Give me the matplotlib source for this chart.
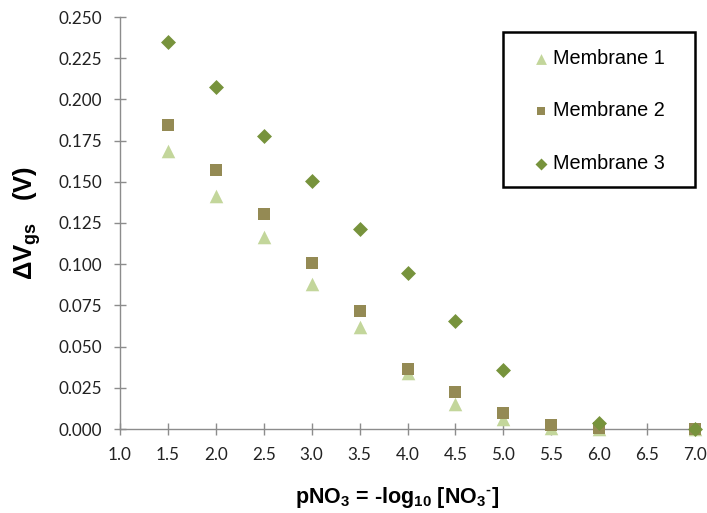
import matplotlib
matplotlib.use("Agg")
import matplotlib.pyplot as plt
from matplotlib.ticker import MultipleLocator, FormatStrFormatter
from matplotlib.patches import Rectangle

plt.rcParams['mathtext.default'] = 'regular'

pNO3 = [1.5, 2.0, 2.5, 3.0, 3.5, 4.0, 4.5, 5.0, 5.5, 6.0, 7.0]
membrane1 = [0.1687, 0.1414, 0.1165, 0.0880, 0.0619, 0.0340, 0.0152, 0.0060, 0.0006, 0.0000, 0.0000]
membrane2 = [0.1845, 0.1570, 0.1305, 0.1007, 0.0716, 0.0364, 0.0225, 0.0097, 0.0024, 0.0006, 0.0000]
pNO3_m3 = [1.5, 2.0, 2.5, 3.0, 3.5, 4.0, 4.5, 5.0, 6.0, 7.0]
membrane3 = [0.2348, 0.2075, 0.1778, 0.1505, 0.1214, 0.0947, 0.0655, 0.0358, 0.0036, 0.0000]

labels = ["Membrane 1", "Membrane 2", "Membrane 3"]
colors = ["#c3d69b", "#948a54", "#77933c"]

fig = plt.figure(figsize=(7.07, 5.13), dpi=100)
ax = fig.add_axes([120/707, 1-429/513, (695-120)/707, (429-17)/513])

ax.scatter(pNO3, membrane1, marker='^', s=95, color=colors[0], label=labels[0],
           zorder=3, linewidths=0, clip_on=False)
ax.scatter(pNO3, membrane2, marker='s', s=65, color=colors[1], label=labels[1],
           zorder=4, linewidths=0, clip_on=False)
ax.scatter(pNO3_m3, membrane3, marker='D', s=58, color=colors[2], label=labels[2],
           zorder=5, linewidths=0, clip_on=False)

ax.set_xlim(1.0, 7.0)
ax.set_ylim(0.0, 0.25)
ax.xaxis.set_major_locator(MultipleLocator(0.5))
ax.yaxis.set_major_locator(MultipleLocator(0.025))
ax.xaxis.set_major_formatter(FormatStrFormatter('%.1f'))
ax.yaxis.set_major_formatter(FormatStrFormatter('%.3f'))

for s in ['top', 'right']:
    ax.spines[s].set_visible(False)
for s in ['left', 'bottom']:
    ax.spines[s].set_color('#8c8c8c')
    ax.spines[s].set_linewidth(1.0)
ax.tick_params(axis='both', direction='inout', length=9, width=1.0, color='#8c8c8c',
               labelsize=12.3, labelcolor='#222222', pad=8.5)
for lbl in ax.get_xticklabels() + ax.get_yticklabels():
    lbl.set_fontfamily('Lato')

ax.set_xlabel("pNO$_3$ = -log$_{10}$ [NO$_3$$^{\u2010}$]", fontsize=15.5, fontweight='bold',
              family='Liberation Sans')
ax.set_ylabel("ΔV$_{gs}$   (V)", fontsize=18.5, fontweight='bold', family='Liberation Sans')
ax.xaxis.set_label_coords((397 - 120) / 575, -(503 - 429) / 412)
ax.xaxis.label.set_va('baseline')
ax.yaxis.set_label_coords(-(120 - 27) / 575, 0.5)
ax.yaxis.label.set_va('center')

leg = ax.legend(loc='upper left', bbox_to_anchor=(531/707, 1-49/513),
                bbox_transform=fig.transFigure, frameon=False, borderpad=0,
                borderaxespad=0, labelspacing=1.68, handletextpad=0.1,
                handlelength=1.0, markerscale=0.8,
                prop={'family': 'Liberation Sans', 'size': 14.3})

fig.patches.append(Rectangle((503/707, 1-187/513), 192/707, 155/513,
                             transform=fig.transFigure, fill=False,
                             edgecolor='black', linewidth=1.8, zorder=10))

fig.savefig("out.png", dpi=100, facecolor='white')
